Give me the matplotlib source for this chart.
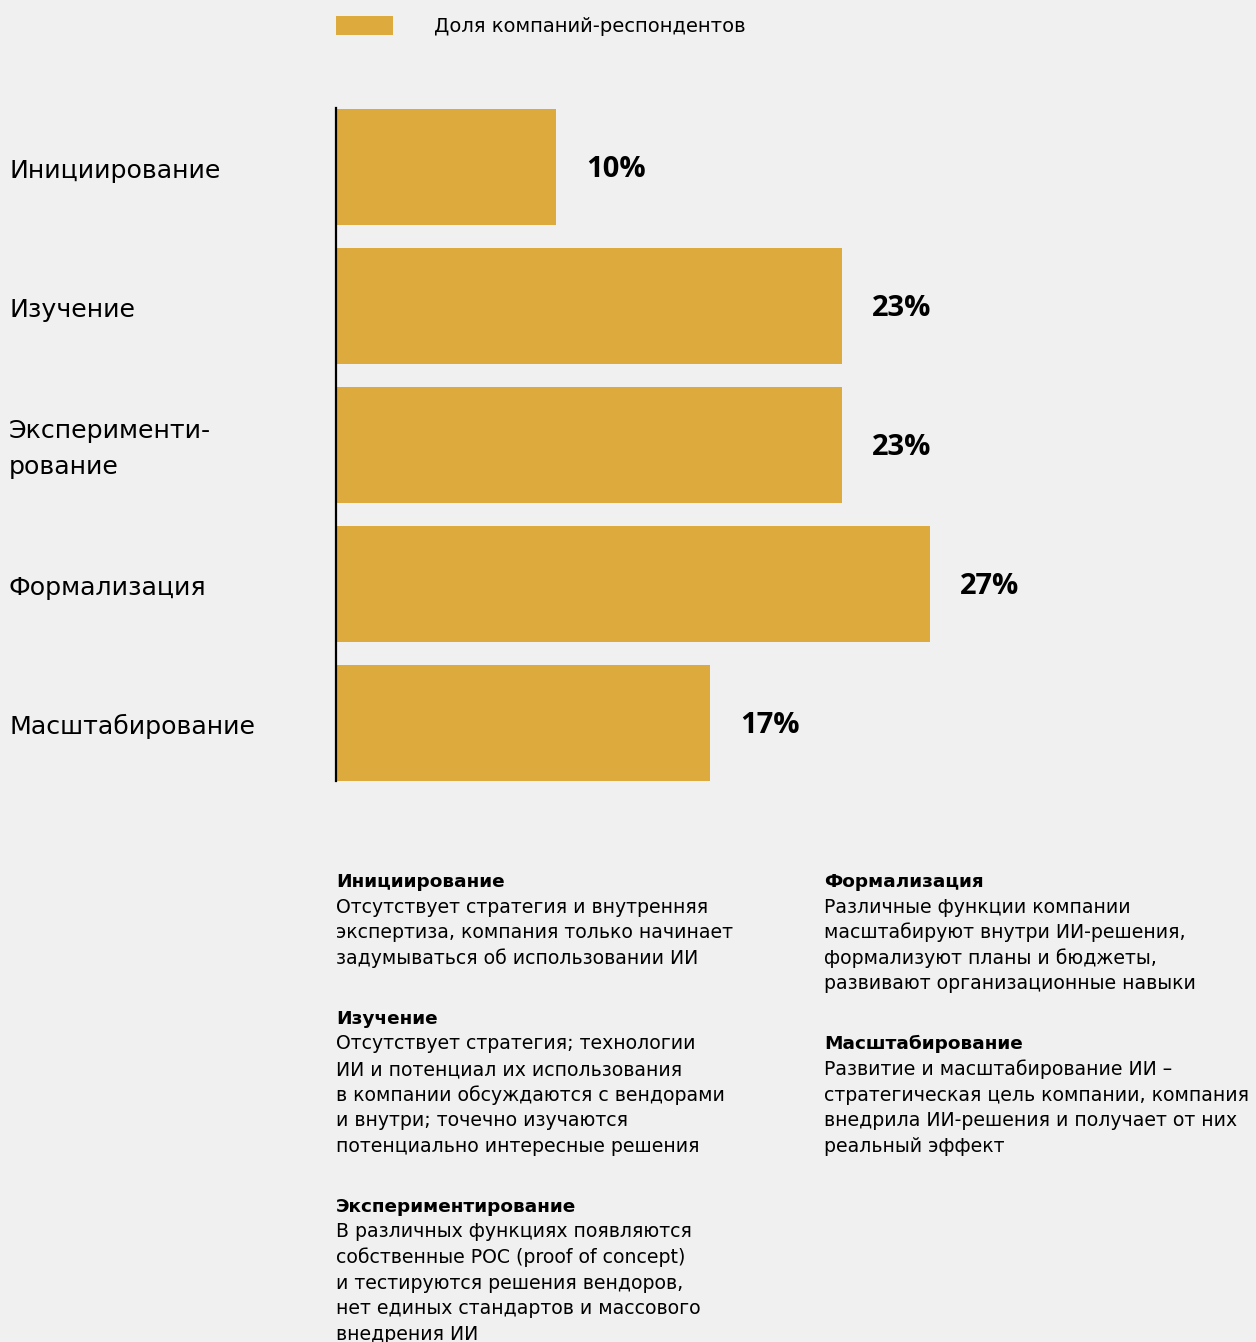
import matplotlib.pyplot as plt
from matplotlib.transforms import blended_transform_factory
from matplotlib.patches import Patch

plt.rcParams['font.family'] = ['DejaVu Sans']

# данные
stages = ["Инициирование", "Изучение", "Эксперименти-\nрование", "Формализация", "Масштабирование"]
shares = [10, 23, 23, 27, 17]
legend_label = "Доля компаний-респондентов"

# описания этапов (заголовок, строки)
left_notes = [
    ("Инициирование", ["Отсутствует стратегия и внутренняя",
                       "экспертиза, компания только начинает",
                       "задумываться об использовании ИИ"]),
    ("Изучение", ["Отсутствует стратегия; технологии",
                  "ИИ и потенциал их использования",
                  "в компании обсуждаются с вендорами",
                  "и внутри; точечно изучаются",
                  "потенциально интересные решения"]),
    ("Экспериментирование", ["В различных функциях появляются",
                             "собственные POC (proof of concept)",
                             "и тестируются решения вендоров,",
                             "нет единых стандартов и массового",
                             "внедрения ИИ"]),
]
right_notes = [
    ("Формализация", ["Различные функции компании",
                      "масштабируют внутри ИИ-решения,",
                      "формализуют планы и бюджеты,",
                      "развивают организационные навыки"]),
    ("Масштабирование", ["Развитие и масштабирование ИИ –",
                         "стратегическая цель компании, компания",
                         "внедрила ИИ-решения и получает от них",
                         "реальный эффект"]),
]

bar_color = "#dcaa3d"
bg = "#f0f0f0"
W, H = 1256, 1342

fig = plt.figure(figsize=(W / 100, H / 100), dpi=100, facecolor=bg)
ax = fig.add_axes([336 / W, (H - 781) / H, 920 / W, 673 / H], facecolor=bg)

ypos = list(range(len(stages)))
ax.barh(ypos, shares, height=0.835, color=bar_color, linewidth=0)
ax.set_xlim(0, 920 / 22)
ax.set_ylim(4.42, -0.424)

for y, v in zip(ypos, shares):
    ax.text(v + 30 / 22, y + 0.02, f"{v}%", ha="left", va="center",
            fontsize=21, fontweight="bold", color="black",
            family=["Open Sans", "DejaVu Sans"])

# подписи категорий слева
tr = blended_transform_factory(fig.transFigure, ax.transData)
for y, name in zip(ypos, stages):
    ax.text(9 / W, y + 0.03, name, transform=tr, ha="left", va="center",
            fontsize=18.2, color="black", linespacing=1.6)

for s in ["top", "right", "bottom"]:
    ax.spines[s].set_visible(False)
ax.spines["left"].set_linewidth(1.6)
ax.spines["left"].set_color("black")
ax.set_xticks([])
ax.set_yticks([])

# легенда
fig.legend(handles=[Patch(facecolor=bar_color, edgecolor="none", label=legend_label)],
           loc="upper left", bbox_to_anchor=(336 / W, 1 - 16 / H), frameon=False,
           fontsize=14, handlelength=2.95, handleheight=1.15, handletextpad=2.1,
           borderpad=0, borderaxespad=0)

# текстовые описания внизу
pitch = 25.6
gap = 34.4


def draw_notes(notes, x_px, y_px):
    for title, lines in notes:
        fig.text(x_px / W, 1 - y_px / H, title, ha="left", va="baseline",
                 fontsize=13.3, fontweight="bold", color="black")
        for ln in lines:
            y_px += pitch
            fig.text(x_px / W, 1 - y_px / H, ln, ha="left", va="baseline",
                     fontsize=13.6, color="black")
        y_px += pitch + gap


draw_notes(left_notes, 336, 887)
draw_notes(right_notes, 824, 887)

fig.savefig("out.png", dpi=100, facecolor=bg)
